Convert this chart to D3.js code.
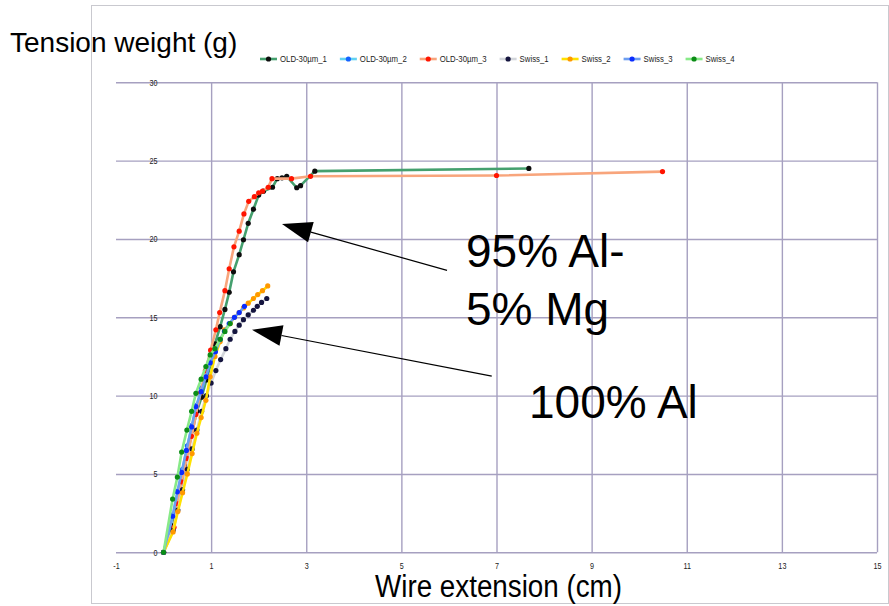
<!DOCTYPE html>
<html>
<head>
<meta charset="utf-8">
<script src="https://cdn.jsdelivr.net/npm/d3@7/dist/d3.min.js"></script>
<style>
	body { margin: 0; background: #fff; }
	svg { display: block; font-family: "Liberation Sans", Arial, sans-serif; }
</style>
</head>
<body>
<svg id="chart" width="889" height="606"></svg>
<script>
// --- data: [wire extension (cm), tension weight (g)] ---
var old30um1 = [[0,0],[0.2,1.7],[0.28,2.9],[0.37,4.2],[0.45,5.5],[0.53,6.7],[0.61,7.8],[0.7,9.0],[0.8,9.9],[0.9,11.0],[1.0,12.1],[1.08,13.3],[1.19,14.4],[1.29,15.5],[1.38,16.6],[1.47,17.9],[1.59,19.0],[1.68,19.95],[1.78,21.0],[1.89,21.9],[2.0,22.8],[2.1,23.05],[2.29,23.3],[2.39,23.85],[2.49,23.9],[2.59,24.0],[2.8,23.27],[2.88,23.4],[3.18,24.33],[7.68,24.5]];
var old30um2 = [[0,0],[0.2,2.4],[0.3,3.9],[0.4,5.3],[0.5,6.8],[0.6,8.1],[0.7,9.4],[0.8,10.5],[0.9,11.4]];
var old30um3 = [[0,0],[0.22,1.6],[0.3,3.1],[0.38,4.5],[0.49,6.0],[0.59,7.4],[0.68,8.8],[0.78,10.2],[0.88,11.6],[0.99,12.9],[1.1,14.2],[1.18,15.3],[1.29,16.7],[1.38,18.1],[1.48,19.5],[1.59,20.5],[1.69,21.6],[1.79,22.4],[1.91,22.7],[2.0,22.95],[2.08,23.05],[2.2,23.3],[2.28,23.85],[2.69,23.85],[3.09,24.0],[7.0,24.05],[10.49,24.3]];
var swiss1 = [[0,0],[0.2,1.4],[0.3,2.7],[0.4,4.0],[0.5,5.3],[0.6,6.6],[0.7,7.8],[0.8,9.0],[0.9,10.0],[1.0,10.8],[1.1,11.6],[1.2,12.3],[1.31,13.0],[1.4,13.6],[1.5,14.1],[1.59,14.5],[1.68,14.85],[1.78,15.16],[1.89,15.45],[1.97,15.7],[2.06,15.95],[2.17,16.2]];
var swiss2 = [[0,0],[0.2,1.3],[0.3,2.6],[0.4,3.8],[0.5,5.0],[0.6,6.3],[0.7,7.6],[0.79,8.6],[0.89,9.7],[0.98,11.2],[1.08,12.5],[1.19,13.45],[1.28,14.2],[1.4,14.6],[1.49,15.0],[1.59,15.3],[1.68,15.6],[1.78,15.9],[1.89,16.2],[1.98,16.45],[2.08,16.7],[2.19,17.0]];
var swiss3 = [[0,0],[0.19,2.3],[0.29,3.86],[0.38,5.1],[0.48,6.5],[0.59,8.0],[0.68,9.3],[0.79,10.25],[0.89,11.2],[0.98,12.1],[1.09,12.8],[1.19,13.6],[1.28,14.1],[1.38,14.6],[1.49,15.0],[1.59,15.3],[1.7,15.7]];
var swiss4 = [[0,0],[0.19,3.4],[0.29,4.8],[0.38,6.4],[0.49,7.8],[0.59,9.0],[0.68,10.15],[0.79,11.05],[0.89,11.86],[0.98,12.6],[1.08,13.0],[1.19,13.6],[1.29,14.1],[1.4,14.6]];

var seriesNames = ["OLD-30\u00b5m_1", "OLD-30\u00b5m_2", "OLD-30\u00b5m_3", "Swiss_1", "Swiss_2", "Swiss_3", "Swiss_4"];
var seriesData = [old30um1, old30um2, old30um3, swiss1, swiss2, swiss3, swiss4];
var xTicks = [-1, 1, 3, 5, 7, 9, 11, 13, 15];
var yTicks = [0, 5, 10, 15, 20, 25, 30];

// styles (kept out of the data)
var lineColors = ["#45a06e", "#62d2f2", "#f8a57c", "#d3d6db", "#ffe100", "#6d9ef0", "#88ea88"];
var dotColors = ["#0d0d0d", "#1463ff", "#ff1400", "#15153f", "#ff9800", "#0a2cff", "#0b8c16"];

// squeeze a text horizontally (no narrow font installed) - factor of its natural width
function squeeze(sel, factor) {
	sel.each(function() {
		var w = this.getComputedTextLength();
		d3.select(this).attr("textLength", w * factor).attr("lengthAdjust", "spacingAndGlyphs");
	});
}

function drawChart() {
	var svg = d3.select("#chart");

	// outer frame
	svg.append("rect")
		.attr("x", 91.5).attr("y", 5.5)
		.attr("width", 797).attr("height", 598)
		.attr("fill", "none")
		.attr("stroke", "#c9c9cf");

	// plot area, px (NB: "top" is a reserved window prop, don't use it)
	var plotLeft = 116, plotRight = 877, plotTop = 82.3, plotBottom = 552.3;
	var x = d3.scaleLinear().domain([-1, 15]).range([plotLeft, plotRight]);
	var y = d3.scaleLinear().domain([0, 30]).range([plotBottom, plotTop]);

	var gridColor = "#a6a0c0";

	// horizontal grid
	var yGrid = svg.append("g")
		.attr("transform", "translate(" + plotLeft + ",0)")
		.call(d3.axisLeft(y).tickValues(yTicks).tickSize(-(plotRight - plotLeft)).tickFormat(""));
	yGrid.select(".domain").remove();
	yGrid.selectAll("line").attr("stroke", gridColor).attr("stroke-width", 1.4);

	// vertical grid (none on the -1 edge)
	var xGrid = svg.append("g")
		.attr("transform", "translate(0," + plotBottom + ")")
		.call(d3.axisBottom(x).tickValues(xTicks.filter(function(d) { return d > -1; })).tickSize(-(plotBottom - plotTop)).tickFormat(""));
	xGrid.select(".domain").remove();
	xGrid.selectAll("line").attr("stroke", gridColor).attr("stroke-width", 1.4);

	// tick labels
	var plainNum = function(d) { return String(d); };
	var xLab = svg.append("g")
		.attr("transform", "translate(0," + plotBottom + ")")
		.call(d3.axisBottom(x).tickValues(xTicks).tickSize(0).tickPadding(10).tickFormat(plainNum));
	xLab.select(".domain").remove();
	xLab.selectAll("text").attr("font-family", null).attr("font-size", 9).attr("fill", "#222");
	squeeze(xLab.selectAll("text"), 0.8);

	var yLab = svg.append("g")
		.attr("transform", "translate(" + x(0) + ",0)")
		.call(d3.axisLeft(y).tickValues(yTicks).tickSize(0).tickPadding(6).tickFormat(plainNum));
	yLab.select(".domain").remove();
	yLab.selectAll("text").attr("font-family", null).attr("font-size", 9).attr("fill", "#222");
	squeeze(yLab.selectAll("text"), 0.8);

	// series: line then markers, in legend order
	var line = d3.line()
		.x(function(d) { return x(d[0]); })
		.y(function(d) { return y(d[1]); });

	seriesData.forEach(function(pts, i) {
		var g = svg.append("g").attr("class", "series");
		g.append("path")
			.attr("d", line(pts))
			.attr("fill", "none")
			.attr("stroke", lineColors[i])
			.attr("stroke-width", 2.6)
			.attr("stroke-linejoin", "round");
		g.selectAll("circle")
			.data(pts)
			.enter().append("circle")
			.attr("cx", function(d) { return x(d[0]); })
			.attr("cy", function(d) { return y(d[1]); })
			.attr("r", 2.6)
			.attr("fill", dotColors[i]);
	});

	// legend
	var legend = svg.append("g").attr("transform", "translate(260,59)");
	var lx = 0;
	seriesNames.forEach(function(name, i) {
		var item = legend.append("g").attr("transform", "translate(" + lx + ",0)");
		item.append("line")
			.attr("x1", 0).attr("x2", 17)
			.attr("stroke", lineColors[i]).attr("stroke-width", 2.6);
		item.append("circle").attr("cx", 8.5).attr("r", 2.6).attr("fill", dotColors[i]);
		var t = item.append("text")
			.attr("x", 20).attr("dy", "0.35em")
			.attr("font-size", 9.4)
			.attr("fill", "#222")
			.text(name);
		var w = t.node().getComputedTextLength() * 0.83;
		t.attr("textLength", w).attr("lengthAdjust", "spacingAndGlyphs");
		lx += 20 + w + 13;
	});

	// annotations (arrows placed in data coordinates)
	var arrows = [
		{ from: [5.96, 18.0], to: [2.49, 20.95] },
		{ from: [6.9, 11.25], to: [1.86, 14.2] }
	];
	arrows.forEach(function(a) {
		var x0 = x(a.from[0]), y0 = y(a.from[1]);
		var x1 = x(a.to[0]), y1 = y(a.to[1]);
		var dx = x1 - x0, dy = y1 - y0;
		var len = Math.sqrt(dx * dx + dy * dy);
		var ux = dx / len, uy = dy / len;
		var headLen = 30, headHalf = 10.5;
		var bx = x1 - ux * headLen, by = y1 - uy * headLen;
		svg.append("line")
			.attr("x1", x0).attr("y1", y0).attr("x2", bx).attr("y2", by)
			.attr("stroke", "#000").attr("stroke-width", 1.2);
		svg.append("polygon")
			.attr("points", [
				[x1, y1],
				[bx - uy * headHalf, by + ux * headHalf],
				[bx + uy * headHalf, by - ux * headHalf]
			].map(function(p) { return p.join(","); }).join(" "))
			.attr("fill", "#000");
	});

	var notes = [
		{ text: "95% Al-", x: 466, y: 267 },
		{ text: "5% Mg", x: 466, y: 325 },
		{ text: "100% Al", x: 529, y: 418 }
	];
	svg.selectAll("text.note")
		.data(notes)
		.enter().append("text")
		.attr("class", "note")
		.attr("x", function(d) { return d.x; })
		.attr("y", function(d) { return d.y; })
		.attr("font-size", 46)
		.attr("fill", "#000")
		.text(function(d) { return d.text; });

	// axis titles
	svg.append("text")
		.attr("x", 10).attr("y", 52)
		.attr("font-size", 28)
		.attr("fill", "#000")
		.text("Tension weight (g)");

	svg.append("text")
		.attr("x", 375).attr("y", 597)
		.attr("font-size", 31)
		.attr("textLength", 247)
		.attr("lengthAdjust", "spacingAndGlyphs")
		.attr("fill", "#000")
		.text("Wire extension (cm)");
}
drawChart();
</script>
</body>
</html>
